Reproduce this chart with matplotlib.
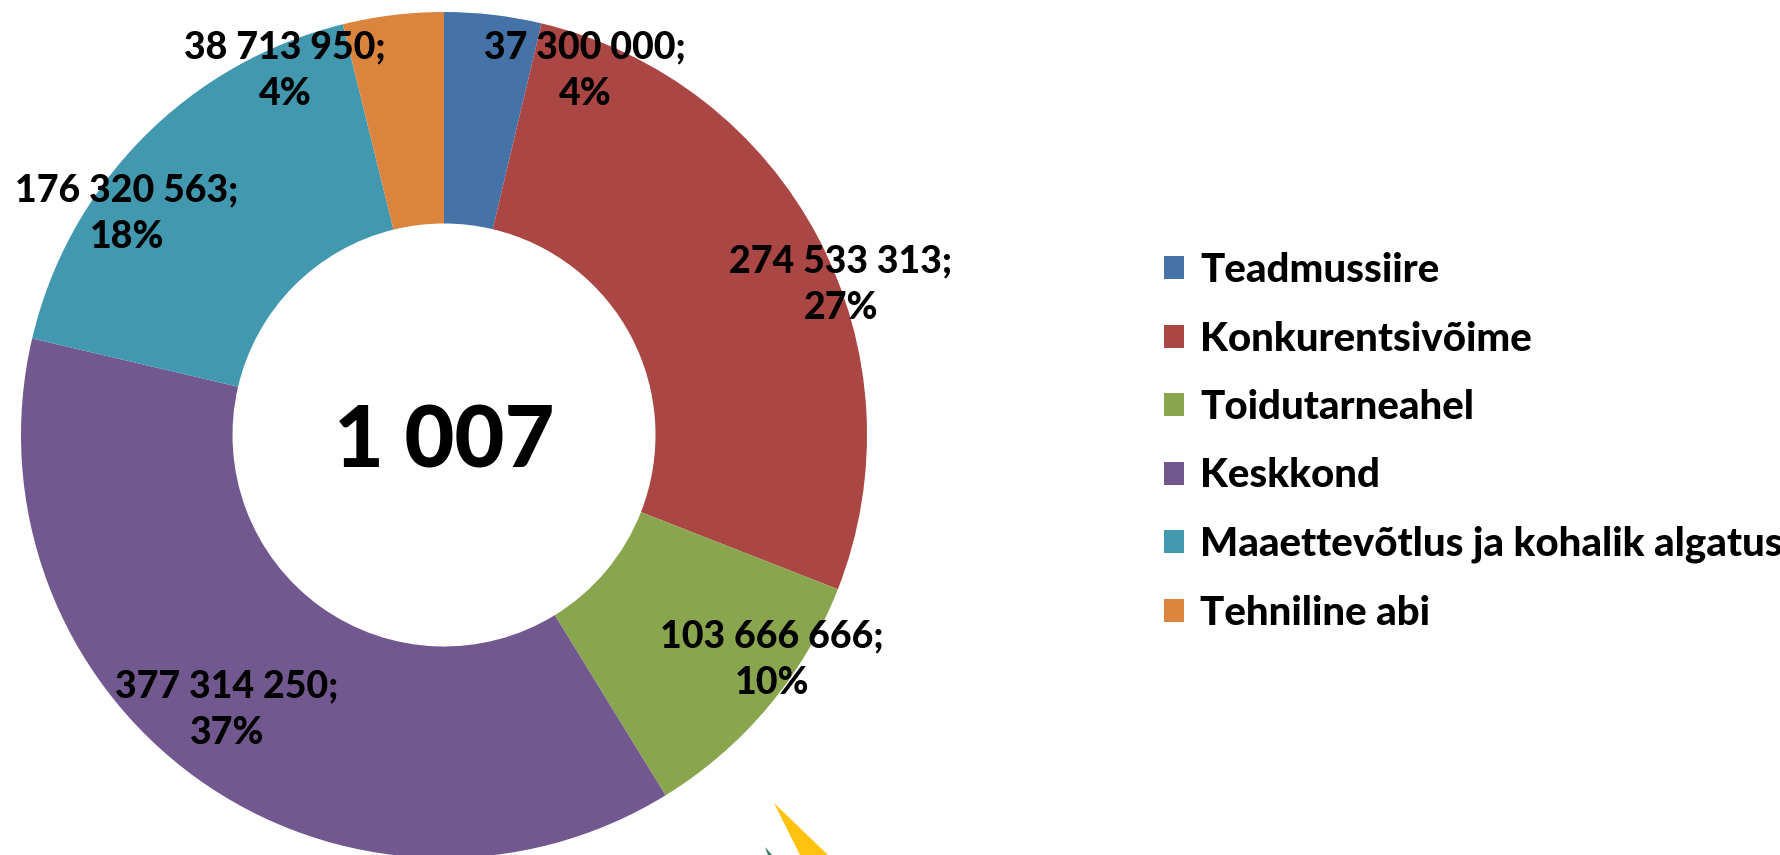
import matplotlib.pyplot as plt
from matplotlib.patches import Patch, Polygon

# Data
categories = ['Teadmussiire', 'Konkurentsivõime', 'Toidutarneahel', 'Keskkond',
              'Maaettevõtlus ja kohalik algatus', 'Tehniline abi']
values = [37300000, 274533313, 103666666, 377314250, 176320563, 38713950]
percents = [4, 27, 10, 37, 18, 4]
colors = ['#4572A7', '#AA4643', '#89A54E', '#71588F', '#4198AF', '#DB843D']
center_text = '1 007'

# label positions (figure pixels, y up)
label_xy = [(585, 784), (841, 570), (772, 195), (227, 145), (127, 641), (285, 784)]

plt.rcParams['font.family'] = ['Lato', 'DejaVu Sans']

W, H = 1781, 855
fig = plt.figure(figsize=(W / 100, H / 100), dpi=100)
ax = fig.add_axes([0, 0, 1, 1])

wedges, _ = ax.pie(values, colors=colors, startangle=90, counterclock=False,
                   center=(444, 420), radius=423,
                   wedgeprops=dict(width=423 * 0.5, linewidth=0))

for v, p, (x, y) in zip(values, percents, label_xy):
    txt = f"{v:,}".replace(',', ' ') + ';\n' + f"{p}%"
    ax.text(x, y, txt, ha='center', va='center', fontsize=27,
            fontweight='black', linespacing=1.45)

ax.text(444, 412, center_text, ha='center', va='center', fontsize=62, fontweight='black')

# clipped logo fragment at the bottom
ax.add_patch(Polygon([(774, 52), (828, 0), (800, 0)], closed=True, color='#FFC20E', lw=0))
ax.add_patch(Polygon([(765, 8), (772, 0), (768, 0)], closed=True, color='#2E7D5B', lw=0))

ax.set_xlim(0, W)
ax.set_ylim(0, H)
ax.set_aspect('auto')
ax.axis('off')

handles = [Patch(facecolor=c, edgecolor='none') for c in colors]
ax.legend(handles, categories, loc='center left', bbox_to_anchor=(1164 / W, 413 / H),
          frameon=False, handlelength=0.5, handleheight=0.5,
          handletextpad=0.4, labelspacing=0.78, borderpad=0, borderaxespad=0,
          prop={'weight': 'black', 'size': 29})

fig.savefig('out.png', dpi=100)
